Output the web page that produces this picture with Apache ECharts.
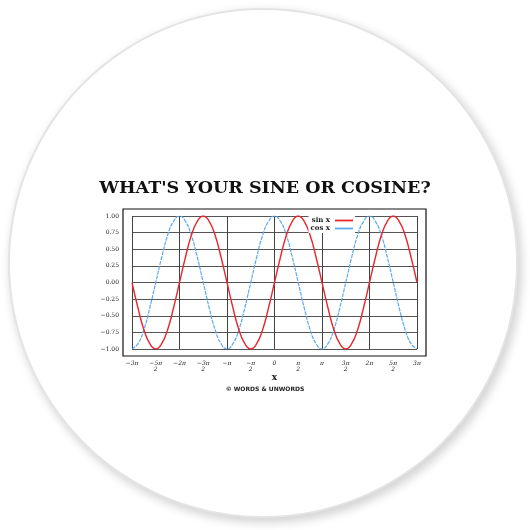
<!DOCTYPE html><html><head><meta charset="utf-8">
<script src="https://cdn.jsdelivr.net/npm/echarts@6/dist/echarts.min.js"></script>
<style>html,body{margin:0;width:530px;height:530px;background:#fff;overflow:hidden}
#c{position:absolute;left:0;top:0;width:530px;height:530px}
.disc{position:absolute;left:10px;top:10px;width:506px;height:506px;border-radius:50%;background:#fff;box-shadow:0 0 0 2px #e4e4e4,3px 4px 10px 3px #d4d4d4}
</style></head><body><div class="disc"></div><div id="c"></div>
<script>
// x in units of π/2, step π/8 (0.25)
const xStart=-6, xStep=0.25;
const sinVals=[0,-.38,-.71,-.92,-1,-.92,-.71,-.38,0,.38,.71,.92,1,.92,.71,.38,
0,-.38,-.71,-.92,-1,-.92,-.71,-.38,0,.38,.71,.92,1,.92,.71,.38,
0,-.38,-.71,-.92,-1,-.92,-.71,-.38,0,.38,.71,.92,1,.92,.71,.38,0];
const cosVals=[-1,-.92,-.71,-.38,0,.38,.71,.92,1,.92,.71,.38,0,-.38,-.71,-.92,
-1,-.92,-.71,-.38,0,.38,.71,.92,1,.92,.71,.38,0,-.38,-.71,-.92,
-1,-.92,-.71,-.38,0,.38,.71,.92,1,.92,.71,.38,0,-.38,-.71,-.92,-1];
const xTickLabels={'-6':'−3π','-5':'{n|−5π}\n{d|2}','-4':'−2π','-3':'{n|−3π}\n{d|2}','-2':'−π','-1':'{n|−π}\n{d|2}','0':'0','1':'{n|π}\n{d|2}','2':'π','3':'{n|3π}\n{d|2}','4':'2π','5':'{n|5π}\n{d|2}','6':'3π'};
const yTicks=[-1,-0.75,-0.5,-0.25,0,0.25,0.5,0.75,1];
const title="WHAT'S YOUR SINE OR COSINE?", credit="© WORDS & UNWORDS";
const pts=(v)=>v.map((y,i)=>[xStart+i*xStep,y]);
const ch=echarts.init(document.getElementById('c'));
const L=132,R=417,T=216,B=349;
ch.setOption({
 animation:false,
 title:[{text:title,left:'center',top:174,textStyle:{fontFamily:'DejaVu Serif',fontWeight:'bold',fontSize:17.5,color:'#111'}},
  {text:credit,left:'center',top:381,textStyle:{fontFamily:'DejaVu Sans',fontWeight:'bold',fontSize:6,color:'#222'}}],
 graphic:[{type:'rect',shape:{x:123,y:209,width:303,height:147},style:{fill:'none',stroke:'#111',lineWidth:1.2},z:10}],
 legend:{right:175,top:216,orient:'vertical',align:'right',itemWidth:18,itemHeight:6,itemGap:1,backgroundColor:'#fff',padding:[1,2],
  textStyle:{fontFamily:'DejaVu Serif',fontWeight:'bold',fontSize:7,color:'#222'},
  data:[{name:'sin x',icon:'path://M0,0H1V0.1H0Z'},{name:'cos x',icon:'path://M0,0H1V0.1H0Z'}]},
 grid:{left:L,right:530-R,top:T,bottom:530-B},
 xAxis:{type:'value',min:-6,max:6,interval:1,name:'x',nameLocation:'middle',nameGap:22,
  nameTextStyle:{fontFamily:'DejaVu Serif',fontWeight:'bold',fontSize:9,color:'#222'},
  axisLine:{show:false},axisTick:{show:false},
  axisLabel:{margin:11,fontFamily:'DejaVu Serif',fontStyle:'italic',fontSize:6,color:'#222',lineHeight:6,
   formatter:v=>xTickLabels[String(v)]||'',rich:{n:{fontSize:6,fontStyle:'italic',fontFamily:'DejaVu Serif'},d:{fontSize:6,fontStyle:'italic',fontFamily:'DejaVu Serif'}}},
  splitLine:{show:true,lineStyle:{color:['#444','rgba(0,0,0,0)'],width:1}}},
 yAxis:{type:'value',min:-1,max:1,interval:0.25,axisLine:{show:false},axisTick:{show:false},
  axisLabel:{margin:13,fontFamily:'DejaVu Serif',fontSize:6,color:'#222',formatter:v=>(v<0?'−':'')+Math.abs(v).toFixed(2)},
  splitLine:{lineStyle:{color:'#555',width:1}}},
 series:[
  {name:'sin x',type:'line',data:pts(sinVals),smooth:true,showSymbol:false,color:'#e8262b',lineStyle:{width:1.4,color:'#e8262b'},z:3},
  {name:'cos x',type:'line',data:pts(cosVals),smooth:true,showSymbol:false,color:'#5aaaf0',lineStyle:{width:1.2,color:'#5aaaf0',type:[4,1]},z:2}
 ]
});
</script></body></html>
